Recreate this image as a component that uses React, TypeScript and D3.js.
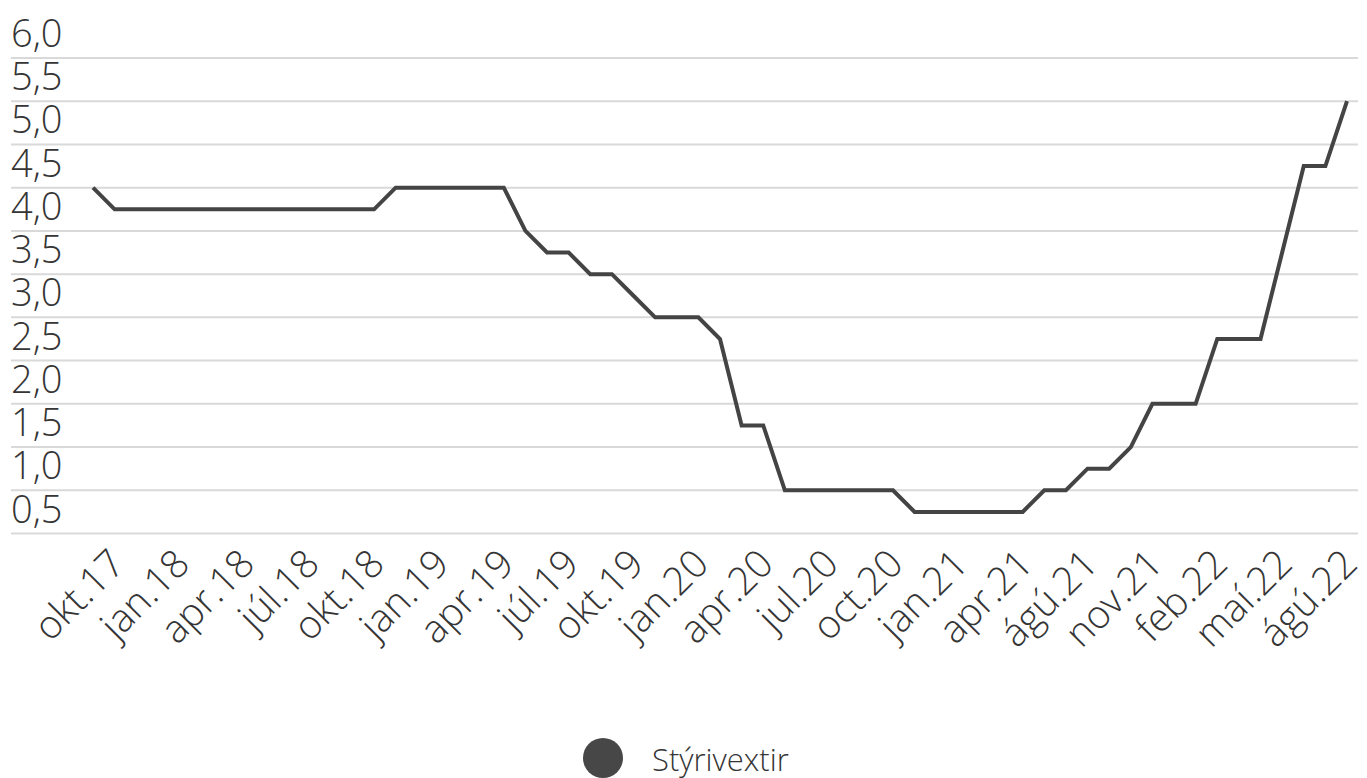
import React from "react";
import * as d3 from "d3";

const categories: string[] = [
  "okt.17", "nóv.17", "des.17", "jan.18", "feb.18", "mar.18", "apr.18", "maí.18", "jún.18", "júl.18",
  "ágú.18", "sep.18", "okt.18", "nóv.18", "des.18", "jan.19", "feb.19", "mar.19", "apr.19", "maí.19",
  "jún.19", "júl.19", "ágú.19", "sep.19", "okt.19", "nóv.19", "des.19", "jan.20", "feb.20", "mar.20",
  "apr.20", "maí.20", "jún.20", "jul.20", "ágú.20", "sep.20", "oct.20", "nóv.20", "des.20", "jan.21",
  "feb.21", "mar.21", "apr.21", "maí.21", "jún.21", "ágú.21", "sep.21", "okt.21", "nov.21", "des.21",
  "jan.22", "feb.22", "mar.22", "apr.22", "maí.22", "jún.22", "júl.22", "ágú.22", "sep.22",
];

const styrivextir: number[] = [
  4.5, 4.25, 4.25, 4.25, 4.25, 4.25, 4.25, 4.25, 4.25, 4.25,
  4.25, 4.25, 4.25, 4.25, 4.5, 4.5, 4.5, 4.5, 4.5, 4.5,
  4.0, 3.75, 3.75, 3.5, 3.5, 3.25, 3.0, 3.0, 3.0, 2.75,
  1.75, 1.75, 1.0, 1.0, 1.0, 1.0, 1.0, 1.0, 0.75, 0.75,
  0.75, 0.75, 0.75, 0.75, 1.0, 1.0, 1.25, 1.25, 1.5, 2.0,
  2.0, 2.0, 2.75, 2.75, 2.75, 3.75, 4.75, 4.75, 5.5,
];

const yTicks: number[] = [0.5, 1.0, 1.5, 2.0, 2.5, 3.0, 3.5, 4.0, 4.5, 5.0, 5.5, 6.0];
const labelEvery = 3;
const seriesName = "Stýrivextir";

const W = 1367;
const H = 778;
const FONT = "'Open Sans', 'Noto Sans', sans-serif";
const TEXT = "#353535";
const LINE = "#444444";
const GRID = "#d9d9d9";
const WEIGHT = 355;

export default function App() {
  const x = d3.scalePoint<string>().domain(categories).range([93, 1347]);
  const y = d3.scaleLinear().domain([0.5, 6.0]).range([533.5, 58]);

  const data = categories.map((c, i) => ({ c, v: styrivextir[i] }));
  const line = d3
    .line<{ c: string; v: number }>()
    .x((d) => x(d.c) as number)
    .y((d) => y(d.v));

  const fmt = (v: number) => v.toFixed(1).replace(".", ",");

  return (
    <svg
      width={W}
      height={H}
      viewBox={`0 0 ${W} ${H}`}
      style={{ position: "absolute", left: 0, top: 0, background: "#fff" }}
    >
      <g>
        {yTicks.map((t) => (
          <g key={t}>
            <line x1={11} x2={1358} y1={y(t)} y2={y(t)} stroke={GRID} strokeWidth={2} />
            <text
              x={11}
              y={y(t) - 11}
              fontFamily={FONT}
              fontSize={38}
              fontWeight={WEIGHT}
              fill={TEXT}
            >
              {fmt(t)}
            </text>
          </g>
        ))}
      </g>
      <path
        d={line(data) || ""}
        fill="none"
        stroke={LINE}
        strokeWidth={4}
        strokeLinejoin="miter"
      />
      <g>
        {categories.map((c, i) =>
          i % labelEvery === 0 ? (
            <text
              key={c}
              transform={`translate(${(x(c) as number) + 34},${566}) rotate(-45)`}
              textAnchor="end"
              fontFamily={FONT}
              fontSize={39}
              fontWeight={WEIGHT}
              fill={TEXT}
            >
              {c}
            </text>
          ) : null
        )}
      </g>
      <g>
        <circle cx={603} cy={758} r={20} fill="#474747" />
        <text x={652} y={771} fontFamily={FONT} fontSize={31} fontWeight={WEIGHT} fill={TEXT}>
          {seriesName}
        </text>
      </g>
    </svg>
  );
}
